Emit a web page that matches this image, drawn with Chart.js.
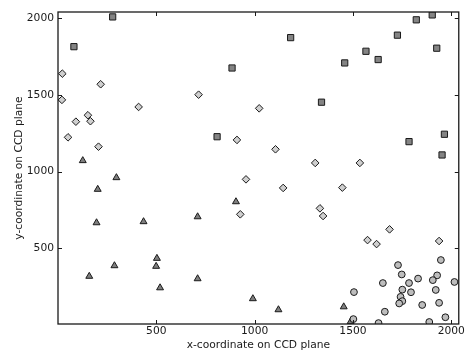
<!DOCTYPE html>
<html>
<head>
<meta charset="utf-8">
<script src="https://cdn.jsdelivr.net/npm/chart.js@4/dist/chart.umd.min.js"></script>
<style>
  html, body { margin: 0; padding: 0; background: #fff; }
  #wrap { width: 466px; height: 351px; }
</style>
</head>
<body>
<div id="wrap"><canvas id="ccd" width="466" height="351"></canvas></div>
<script>
const X_TICKS = [500, 1000, 1500, 2000];
const Y_TICKS = [500, 1000, 1500, 2000];

// [x, y] positions
const SQUARES = [
  [278, 2009], [81, 1815], [885, 1676], [1183, 1874], [1340, 1453], [809, 1228],
  [1458, 1709], [1566, 1785], [1628, 1731], [1726, 1890], [1822, 1990], [1903, 2022],
  [1926, 1805], [1965, 1244], [1785, 1196], [1953, 1109]
];
const DIAMONDS = [
  [22, 1639], [217, 1570], [20, 1468], [410, 1422], [152, 1368], [165, 1329],
  [91, 1326], [51, 1224], [206, 1163], [715, 1502], [1023, 1413], [910, 1207],
  [1106, 1146], [1308, 1057], [1535, 1057], [956, 950], [1145, 894], [927, 722],
  [1332, 761], [1348, 711], [1446, 896], [1686, 624], [1574, 554], [1620, 528],
  [1938, 548]
];
const TRIANGLES = [
  [126, 1072], [297, 961], [202, 885], [196, 667], [435, 674], [503, 435],
  [499, 383], [287, 387], [159, 318], [519, 243], [905, 804], [710, 706],
  [710, 302], [991, 172], [1121, 100], [1453, 119], [1488, 22]
];
const CIRCLES = [
  [1729, 391], [1947, 424], [1748, 330], [1928, 324], [1906, 293], [1831, 303],
  [1785, 274], [1652, 274], [2016, 281], [1751, 231], [1795, 214], [1921, 229],
  [1505, 215], [1742, 184], [1751, 156], [1735, 141], [1938, 145], [1852, 131],
  [1662, 87], [1970, 51], [1502, 39], [1630, 13], [1888, 20]
];

const toPts = arr => arr.map(([x, y]) => ({ x, y }));
const FONT = { family: 'DejaVu Sans', size: 10.7 };
const INK = '#1a1a1a';

const frame = {
  id: 'frame',
  afterDatasetsDraw(chart) {
    const { ctx, chartArea: a, scales: { x, y } } = chart;
    const len = 4;
    ctx.save();
    ctx.strokeStyle = INK;
    ctx.lineWidth = 1;
    ctx.beginPath();
    x.ticks.forEach(t => {
      const px = Math.round(x.getPixelForValue(t.value)) + 0.5;
      ctx.moveTo(px, a.bottom); ctx.lineTo(px, a.bottom - len);
      ctx.moveTo(px, a.top); ctx.lineTo(px, a.top + len);
    });
    y.ticks.forEach(t => {
      const py = Math.round(y.getPixelForValue(t.value)) + 0.5;
      ctx.moveTo(a.left, py); ctx.lineTo(a.left + len, py);
      ctx.moveTo(a.right, py); ctx.lineTo(a.right - len, py);
    });
    ctx.stroke();
    ctx.lineWidth = 1.3;
    ctx.strokeRect(a.left, a.top, a.right - a.left, a.bottom - a.top);
    ctx.restore();
  }
};

const ds = (data, style, radius, fill) => ({
  data: toPts(data),
  pointStyle: style,
  pointRadius: radius,
  pointHoverRadius: radius,
  backgroundColor: fill,
  borderColor: INK,
  borderWidth: 1,
  clip: 0
});

new Chart(document.getElementById('ccd').getContext('2d'), {
  type: 'scatter',
  data: {
    datasets: [
      ds(CIRCLES, 'circle', 3.4, '#bdbdbd'),
      ds(TRIANGLES, 'triangle', 4, '#7f7f7f'),
      ds(DIAMONDS, 'rectRot', 3.8, '#cfcfcf'),
      ds(SQUARES, 'rect', 4.4, '#848484')
    ]
  },
  options: {
    responsive: false,
    animation: false,
    layout: { padding: { top: 12, right: 5.5, left: 0, bottom: 0 } },
    plugins: { legend: { display: false }, tooltip: { enabled: false } },
    scales: {
      x: {
        type: 'linear',
        min: 0,
        max: 2038,
        afterBuildTicks: s => { s.ticks = X_TICKS.map(v => ({ value: v })); },
        afterFit: s => { s.height = 27; },
        grid: { display: false, drawTicks: false },
        border: { display: false },
        ticks: { font: FONT, color: INK, padding: 1, maxRotation: 0, callback: v => String(v) },
        title: { display: true, text: 'x-coordinate on CCD plane', font: FONT, color: INK, padding: { top: 0, bottom: -1 } }
      },
      y: {
        type: 'linear',
        min: 7,
        max: 2041,
        afterBuildTicks: s => { s.ticks = Y_TICKS.map(v => ({ value: v })); },
        afterFit: s => { s.width = 58; },
        grid: { display: false, drawTicks: false },
        border: { display: false },
        ticks: { font: FONT, color: INK, padding: 4, callback: v => String(v) },
        title: { display: true, text: 'y-coordinate on CCD plane', font: FONT, color: INK, padding: { top: 12.5, bottom: 0 } }
      }
    }
  },
  plugins: [frame]
});
</script>
</body>
</html>
